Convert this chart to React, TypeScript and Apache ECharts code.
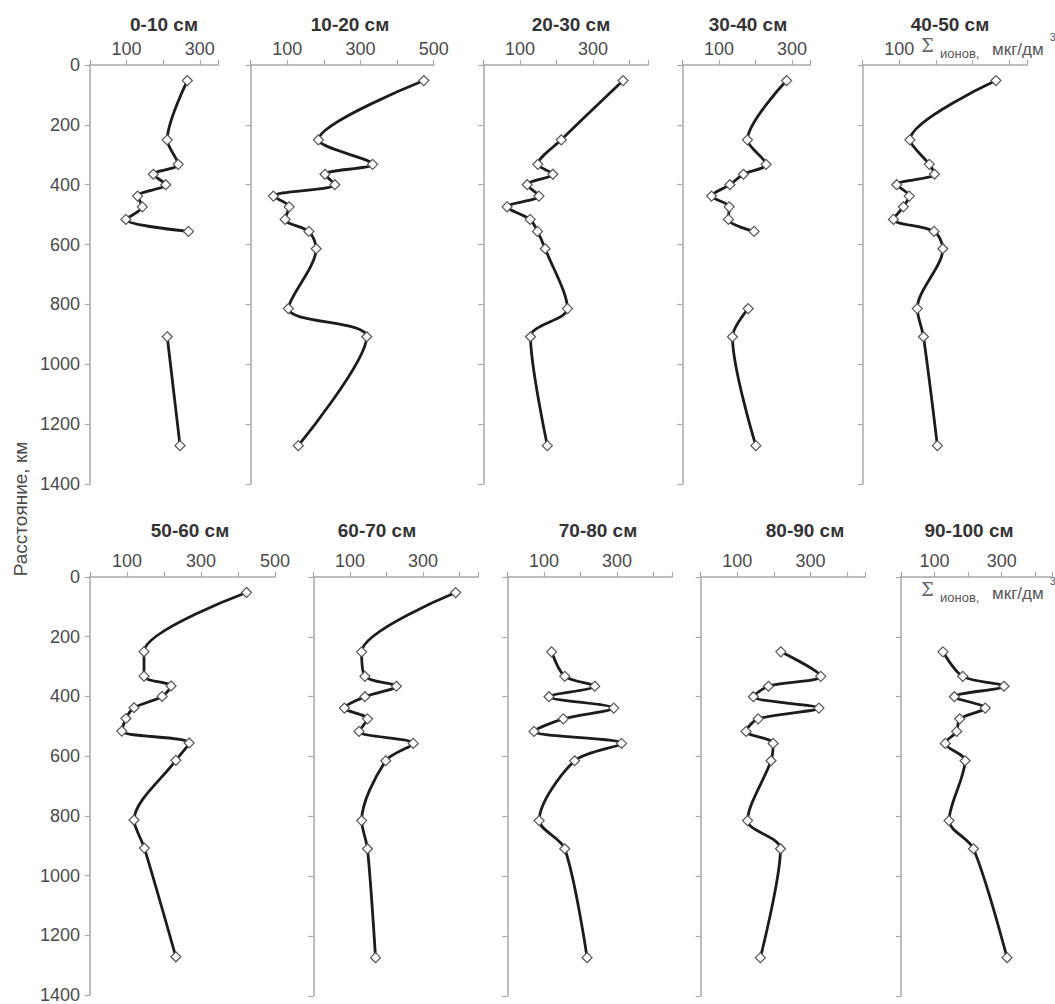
import React, { useEffect, useRef } from "react";
import * as echarts from "echarts";

// Distance of sampling stations, km
const stations = [52, 250, 332, 365, 400, 438, 474, 516, 556, 614, 814, 908, 1272];

// Panel titles (soil layer depth)
const layerTitles = ["0-10 см", "10-20 см", "20-30 см", "30-40 см", "40-50 см", "50-60 см", "60-70 см", "70-80 см", "80-90 см", "90-100 см"];

// Sum of ions, µg/dm³, for each layer (null = no sample)
const d0_10 = [266, 211, 241, 173, 207, 130, 143, 98, 269, null, null, 211, 246];
const d10_20 = [473, 185, 333, 203, 230, 62, 105, 94, 159, 179, 103, 317, 130];
const d20_30 = [382, 213, 149, 190, 120, 152, 65, 128, 148, 169, 230, 129, 175];
const d30_40 = [285, 178, 229, 167, 130, 80, 128, 126, 196, null, 180, 137, 201];
const d40_50 = [364, 129, 182, 196, 93, 127, 111, 84, 195, 219, 149, 166, 204];
const d50_60 = [423, 146, 146, 219, 195, 119, 97, 86, 268, 232, 119, 147, 232];
const d60_70 = [389, 132, 141, 227, 141, 85, 148, 125, 273, 198, 132, 148, 170];
const d70_80 = [null, 121, 157, 239, 114, 291, 153, 73, 312, 184, 87, 157, 218];
const d80_90 = [null, 219, 328, 185, 144, 323, 157, 124, 198, 192, 128, 218, 163];
const d90_100 = [null, 125, 184, 307, 159, 251, 175, 166, 132, 191, 143, 216, 316];
const layerValues = [d0_10, d10_20, d20_30, d30_40, d40_50, d50_60, d60_70, d70_80, d80_90, d90_100];

// Axis ranges and tick labels
const xMax = [350, 500, 450, 350, 450, 500, 450, 450, 450, 450];
const xLabelValues = [[100, 300], [100, 300, 500], [100, 300], [100, 300], [100], [100, 300, 500], [100, 300], [100, 300], [100, 300], [100, 300]];
const yTicks = [0, 200, 400, 600, 800, 1000, 1200, 1400];
const yAxisName = "Расстояние, км";
const unitParts = ["Σ", "ионов,", "мкг/дм", "3"];

// Layout (positions only)
const panelLeft = [90, 250.7, 483.3, 682.3, 862.7, 90, 313.3, 507.3, 700.7, 901];
const pxPerUnit = [0.366, 0.366, 0.366, 0.366, 0.366, 0.37, 0.366, 0.366, 0.366, 0.366];
const rowTop = [65, 577];
const rowHeight = 419;
const titleX = [164, 350, 571, 748, 950, 190, 377, 598, 805, 969];
const titleY = [24, 530];

const FONT = '"Liberation Sans", Arial, sans-serif';
const AXIS_COLOR = "#a8a8a8";
const LABEL_COLOR = "#4a4a4a";

export default function App() {
  const ref = useRef<HTMLDivElement>(null);

  useEffect(() => {
    if (!ref.current) return;
    const chart = echarts.init(ref.current, null, { renderer: "svg" });

    const grids = layerTitles.map((_, i) => ({
      left: panelLeft[i],
      top: rowTop[i < 5 ? 0 : 1],
      width: xMax[i] * pxPerUnit[i],
      height: rowHeight,
      containLabel: false,
    }));

    const xAxes = layerTitles.map((_, i) => ({
      type: "value",
      gridIndex: i,
      position: "top",
      min: 0,
      max: xMax[i],
      interval: 100,
      splitLine: { show: false },
      axisLine: { show: true, onZero: false, lineStyle: { color: AXIS_COLOR, width: 1.5 } },
      axisTick: { show: true, inside: false, length: 5, lineStyle: { color: AXIS_COLOR, width: 1.2 } },
      axisLabel: {
        show: true,
        margin: 7,
        color: LABEL_COLOR,
        fontSize: 18,
        fontFamily: FONT,
        formatter: (v: number) => (xLabelValues[i].indexOf(v) >= 0 ? String(v) : ""),
      },
    }));

    const yAxes = layerTitles.map((_, i) => ({
      type: "value",
      gridIndex: i,
      inverse: true,
      min: yTicks[0],
      max: yTicks[yTicks.length - 1],
      interval: yTicks[1] - yTicks[0],
      splitLine: { show: false },
      axisLine: { show: true, onZero: false, lineStyle: { color: AXIS_COLOR, width: 1.5 } },
      axisTick: { show: true, inside: false, length: 5, lineStyle: { color: AXIS_COLOR, width: 1.2 } },
      axisLabel: {
        show: i % 5 === 0,
        margin: 10,
        color: LABEL_COLOR,
        fontSize: 18,
        fontFamily: FONT,
        formatter: (v: number) => String(v),
      },
    }));

    const series = layerValues.map((vals, i) => ({
      type: "line",
      name: layerTitles[i],
      xAxisIndex: i,
      yAxisIndex: i,
      data: stations.map((s, k) => (vals[k] == null ? ["-", s] : [vals[k], s])),
      smooth: 0.3,
      connectNulls: false,
      symbol: "diamond",
      symbolSize: 10,
      showSymbol: true,
      lineStyle: { color: "#1c1c1c", width: 2.8 },
      itemStyle: { color: "#ffffff", borderColor: "#555555", borderWidth: 1.2 },
    }));

    const graphics: any[] = [];
    layerTitles.forEach((t, i) => {
      graphics.push({
        type: "text",
        x: titleX[i],
        y: titleY[i < 5 ? 0 : 1],
        style: {
          text: t,
          fontFamily: FONT,
          fontWeight: "bold",
          fontSize: 19,
          fill: "#333333",
          textAlign: "center",
          textVerticalAlign: "middle",
        },
      });
    });

    graphics.push({
      type: "text",
      x: 20,
      y: 509,
      rotation: Math.PI / 2,
      style: {
        text: yAxisName,
        fontFamily: FONT,
        fontSize: 19,
        fill: "#4a4a4a",
        textAlign: "center",
        textVerticalAlign: "middle",
      },
    });

    const unitLabel = (x0: number, yBase: number) => [
      { type: "text", x: x0, y: yBase - 8, style: { text: unitParts[0], fontFamily: '"DejaVu Serif", "Liberation Serif", serif', fontSize: 18, fill: "#666666", textVerticalAlign: "middle" } },
      { type: "text", x: x0 + 19, y: yBase + 0, style: { text: unitParts[1], fontFamily: FONT, fontSize: 13, fill: "#555555", textVerticalAlign: "middle" } },
      { type: "text", x: x0 + 71, y: yBase - 4, style: { text: unitParts[2], fontFamily: FONT, fontSize: 17, fill: "#555555", textVerticalAlign: "middle" } },
      { type: "text", x: x0 + 129, y: yBase - 16, style: { text: unitParts[3], fontFamily: FONT, fontSize: 10, fill: "#555555", textVerticalAlign: "middle" } },
    ];
    graphics.push(...unitLabel(921, 53));
    graphics.push(...unitLabel(921, 597));

    chart.setOption({
      animation: false,
      backgroundColor: "#ffffff",
      textStyle: { fontFamily: FONT },
      grid: grids,
      xAxis: xAxes,
      yAxis: yAxes,
      series,
      graphic: graphics,
    });

    return () => chart.dispose();
  }, []);

  return (
    <div
      ref={ref}
      style={{ position: "fixed", left: 0, top: 0, width: 1055, height: 1004, background: "#fff" }}
    />
  );
}
